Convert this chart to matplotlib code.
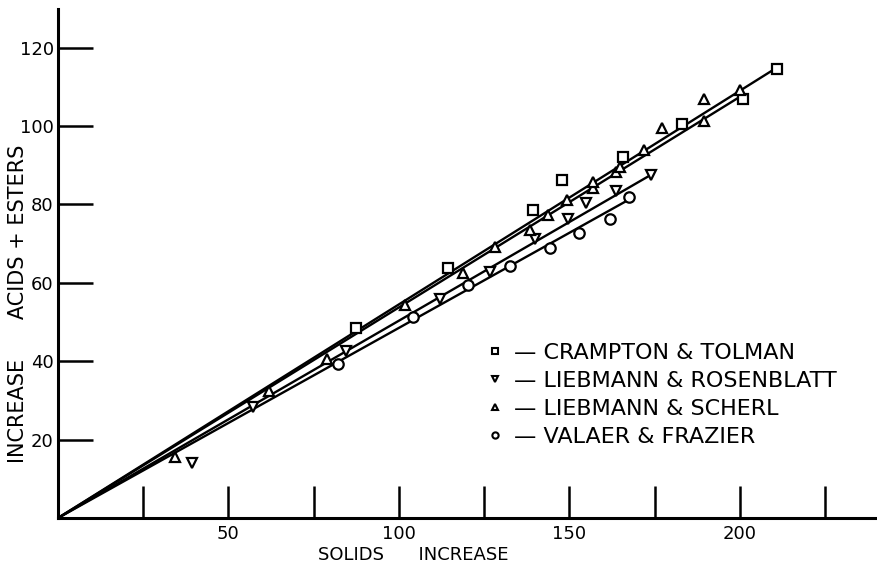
import matplotlib
matplotlib.use("Agg")
import matplotlib.pyplot as plt
from matplotlib.lines import Line2D

# Crampton & Tolman (squares)
ct_x = [87.4, 114.4, 139.4, 147.9, 165.6, 183.0, 200.8, 211.0]
ct_y = [48.6, 63.8, 78.6, 86.2, 92.2, 100.5, 106.8, 114.5]
ct_line_x = [0, 211]
ct_line_y = [0, 115]

# Liebmann & Rosenblatt (triangles down)
lr_x = [39.2, 57.3, 84.5, 112.0, 126.7, 139.9, 149.7, 154.8, 163.8, 174.0]
lr_y = [14.1, 28.4, 42.6, 56.0, 62.8, 71.3, 76.4, 80.5, 83.5, 87.5]
lr_line_x = [0, 174]
lr_line_y = [0, 87.6]

# Liebmann & Scherl (triangles up)
ls_x = [34.3, 62.0, 78.8, 101.7, 118.9, 128.2, 138.4, 143.8, 149.2, 157.0,
        157.0, 163.8, 164.8, 172.0, 177.2, 189.4, 189.5, 200.0]
ls_y = [15.5, 32.4, 40.5, 54.3, 62.4, 69.2, 73.5, 77.3, 81.1, 84.1,
        85.8, 88.3, 89.6, 93.9, 99.4, 101.4, 106.8, 109.2]
ls_line_x = [0, 201]
ls_line_y = [0, 108]

# Valaer & Frazier (circles)
vf_x = [82.2, 104.0, 120.3, 132.6, 144.3, 152.9, 161.9, 167.5]
vf_y = [39.3, 51.2, 59.4, 64.3, 69.0, 72.6, 76.4, 82.0]
vf_line_x = [0, 168]
vf_line_y = [0, 81.5]

names = ["CRAMPTON & TOLMAN", "LIEBMANN & ROSENBLATT",
         "LIEBMANN & SCHERL", "VALAER & FRAZIER"]
markers = ["s", "v", "^", "o"]

xticks = [25, 50, 75, 100, 125, 150, 175, 200, 225]
xticklabels = ["", "50", "", "100", "", "150", "", "200", ""]
yticks = [20, 40, 60, 80, 100, 120]

fig = plt.figure(figsize=(8.77, 5.63), dpi=100)
ax = fig.add_axes([0.0661, 0.0799, 0.933, 0.905])

series = [(ct_x, ct_y, ct_line_x, ct_line_y),
          (lr_x, lr_y, lr_line_x, lr_line_y),
          (ls_x, ls_y, ls_line_x, ls_line_y),
          (vf_x, vf_y, vf_line_x, vf_line_y)]

for (px, py, lx, ly), m in zip(series, markers):
    ax.plot(lx, ly, color="black", lw=1.7, zorder=2)
    ax.plot(px, py, linestyle="none", marker=m, ms=7.5, mfc="white",
            mec="black", mew=1.6, zorder=3)

ax.set_xlim(0, 240)
ax.set_ylim(0, 130)
for s in ["top", "right"]:
    ax.spines[s].set_visible(False)
for s in ["left", "bottom"]:
    ax.spines[s].set_linewidth(2.2)

ax.set_xticks(xticks)
ax.set_xticklabels(xticklabels)
ax.set_yticks(yticks)
ax.tick_params(axis="x", direction="in", length=23, width=1.8, pad=5, labelsize=13)
ax.tick_params(axis="y", direction="in", length=25, width=1.8, pad=3, labelsize=13)

ax.set_xlabel("SOLIDS      INCREASE", fontsize=13)
ax.xaxis.set_label_coords(0.434, -0.054)
ax.set_ylabel("INCREASE      ACIDS + ESTERS", fontsize=15)
ax.yaxis.set_label_coords(-0.037, 0.42)

handles = [Line2D([], [], linestyle="none", marker=m, ms=4.5, mfc="white",
                  mec="black", mew=1.5) for m in markers]
labels = ["\u2014 " + n for n in names]
ax.legend(handles, labels, loc="upper left", bbox_to_anchor=(125, 44.6),
          bbox_transform=ax.transData, frameon=False, fontsize=16,
          handlelength=1, handletextpad=0.35, labelspacing=0.35,
          borderpad=0, borderaxespad=0)

fig.savefig("out.png", dpi=100)
